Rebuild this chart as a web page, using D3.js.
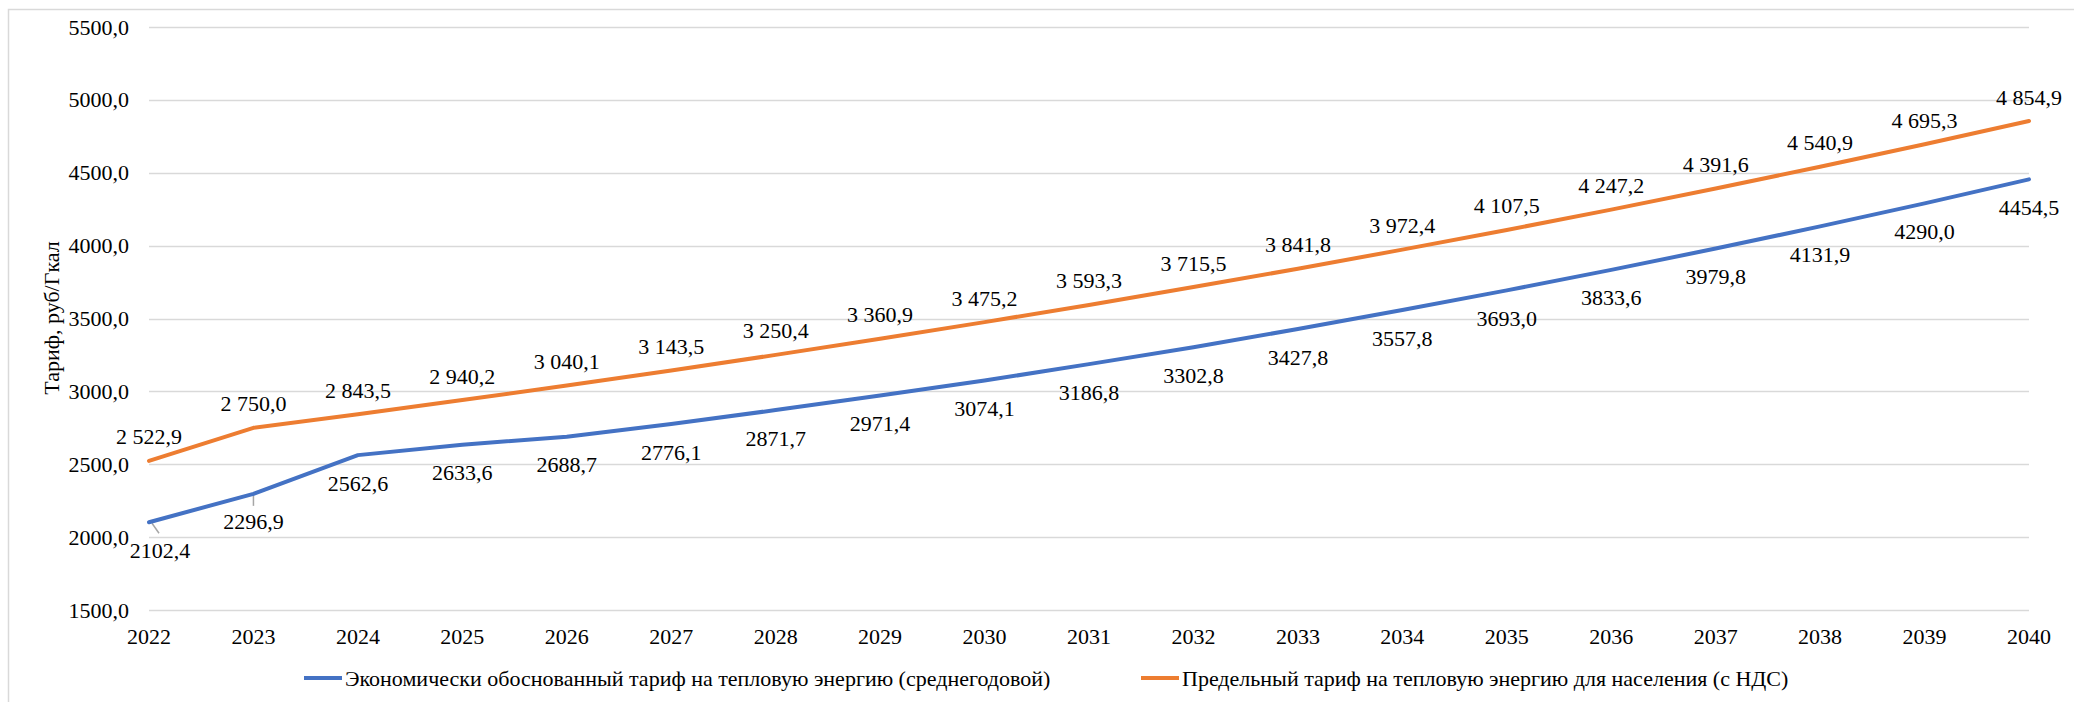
<!DOCTYPE html>
<html><head><meta charset="utf-8">
<script src="https://cdn.jsdelivr.net/npm/d3@7"></script>
<style>body{margin:0;background:#fff}svg{display:block}</style>
</head><body>
<svg id="c" width="2074" height="702"></svg>
<script>
const years = [2022,2023,2024,2025,2026,2027,2028,2029,2030,2031,2032,2033,2034,2035,2036,2037,2038,2039,2040];
const economic = [2102.4,2296.9,2562.6,2633.6,2688.7,2776.1,2871.7,2971.4,3074.1,3186.8,3302.8,3427.8,3557.8,3693.0,3833.6,3979.8,4131.9,4290.0,4454.5];
const limitTariff = [2522.9,2750.0,2843.5,2940.2,3040.1,3143.5,3250.4,3360.9,3475.2,3593.3,3715.5,3841.8,3972.4,4107.5,4247.2,4391.6,4540.9,4695.3,4854.9];
const yTicks = [1500,2000,2500,3000,3500,4000,4500,5000,5500];
const seriesNames = ["Экономически обоснованный тариф на тепловую энергию (среднегодовой)","Предельный тариф на тепловую энергию для населения (с НДС)"];
const colors = ["#4472C4","#ED7D31"];
const yTitle = "Тариф, руб/Гкал";

const FF = "Liberation Serif, Tinos, serif";
const fs = 22;
const svg = d3.select("#c");
const txt = (sel) => sel.attr("font-family",FF).attr("font-size",fs).attr("fill","#000");

svg.append("rect").attr("x",8.5).attr("y",9.5).attr("width",2080).attr("height",700)
  .attr("fill","none").attr("stroke","#D9D9D9").attr("stroke-width",1.5);

const x = d3.scalePoint().domain(years).range([149,2029]);
const y = d3.scaleLinear().domain([1500,5500]).range([610,27]);

const fmtComma = v => d3.format(".1f")(v).replace(".",",");
const fmtSpace = v => d3.format(",.1f")(v).replace(/,/g," ").replace(".",",");

svg.append("g").selectAll("line").data(yTicks).join("line")
  .attr("x1",149).attr("x2",2029).attr("y1",d=>Math.round(y(d))+0.5).attr("y2",d=>Math.round(y(d))+0.5)
  .attr("stroke","#D9D9D9").attr("stroke-width",1.5);

svg.append("g").selectAll("text").data(yTicks).join("text")
  .attr("x",129).attr("y",d=>y(d)+7.5).attr("text-anchor","end").call(txt)
  .text(d=>fmtComma(d));

svg.append("g").selectAll("text").data(years).join("text")
  .attr("x",d=>x(d)).attr("y",644).attr("text-anchor","middle").call(txt)
  .text(d=>d);

svg.append("text").attr("transform","translate(59,318) rotate(-90)").attr("text-anchor","middle")
  .call(txt).text(yTitle);

svg.append("line").attr("x1",x(2022)+3).attr("y1",y(economic[0])+1).attr("x2",x(2022)+10).attr("y2",y(economic[0])+11)
  .attr("stroke","#A6A6A6").attr("stroke-width",1.5);
svg.append("line").attr("x1",x(2023)).attr("y1",y(economic[1])).attr("x2",x(2023)).attr("y2",y(economic[1])+12)
  .attr("stroke","#A6A6A6").attr("stroke-width",1.5);

const line = d3.line().x((d,i)=>x(years[i])).y(d=>y(d));
[economic, limitTariff].forEach((s,k)=>{
  svg.append("path").datum(s).attr("d",line).attr("fill","none")
    .attr("stroke",colors[k]).attr("stroke-width",4).attr("stroke-linejoin","round").attr("stroke-linecap","round");
});

svg.append("g").selectAll("text").data(limitTariff).join("text")
  .attr("x",(d,i)=>x(years[i])).attr("y",d=>y(d)-24+7.5).attr("text-anchor","middle").call(txt)
  .text(d=>fmtSpace(d));
svg.append("g").selectAll("text").data(economic).join("text")
  .attr("x",(d,i)=>x(years[i]) + (i===0?11:0)).attr("y",d=>y(d)+28+7.5).attr("text-anchor","middle").call(txt)
  .text(d=>fmtComma(d));

const leg = [{x:304,t:seriesNames[0],c:colors[0]},{x:1141,t:seriesNames[1],c:colors[1]}];
leg.forEach(l=>{
  svg.append("line").attr("x1",l.x).attr("x2",l.x+38).attr("y1",678).attr("y2",678)
    .attr("stroke",l.c).attr("stroke-width",4);
  svg.append("text").attr("x",l.x+41).attr("y",685.5).call(txt).text(l.t);
});
</script>
</body></html>
